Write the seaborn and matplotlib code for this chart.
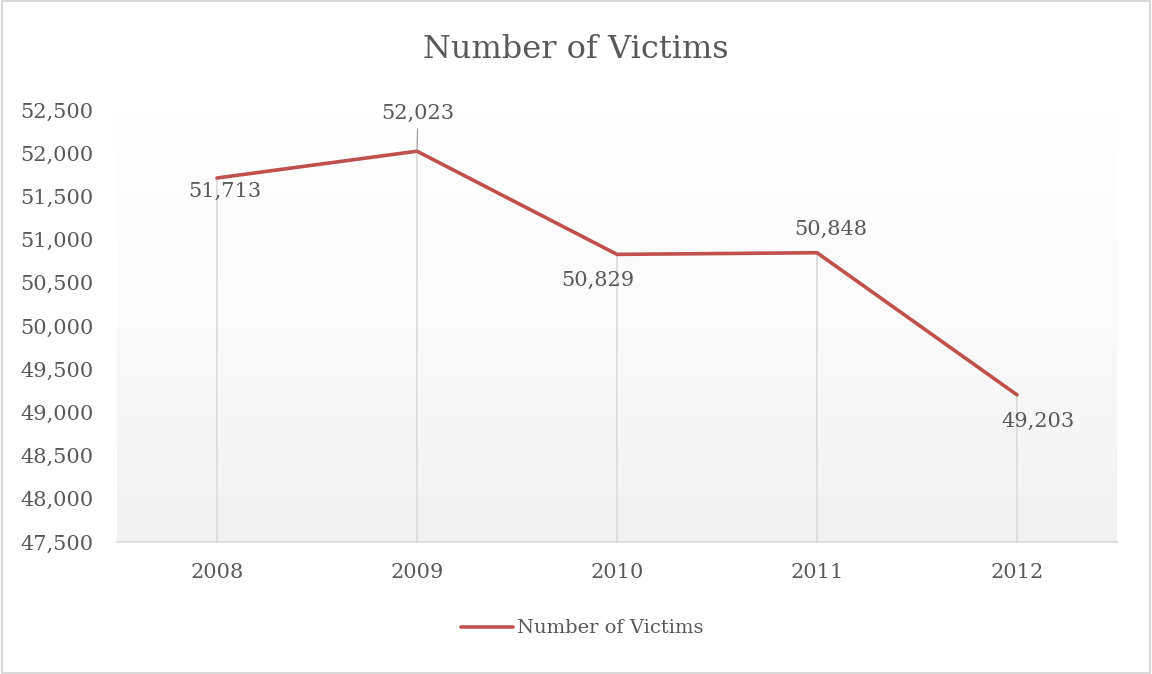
import numpy as np
import pandas as pd
import seaborn as sns
import matplotlib.pyplot as plt
from matplotlib.colors import LinearSegmentedColormap

years = ["2008", "2009", "2010", "2011", "2012"]
victims = [51713, 52023, 50829, 50848, 49203]

sns.set_style("white")
plt.rcParams['font.family'] = ['DejaVu Serif']
text_col = "#595959"
grid_col = "#d9d9d9"

df = pd.DataFrame({"Year": years, "Number of Victims": victims})
df["x"] = range(len(df))

fig = plt.figure(figsize=(11.52, 6.74), dpi=100)
ax = fig.add_axes([117/1152, 1 - 542/674, 1000/1152, 432/674])

# gradient background in the plot area
grad = np.linspace(0, 1, 256).reshape(-1, 1)
cmap = LinearSegmentedColormap.from_list("g", ["#f1f1f1", "#fafafa", "#ffffff"])
ax.imshow(grad, extent=(-0.5, 4.5, 47500, 52500), aspect="auto",
          cmap=cmap, origin="lower", zorder=0)

# drop lines
ax.vlines(df["x"], 47500, df["Number of Victims"], color=grid_col, lw=1.2, zorder=1)

sns.lineplot(data=df, x="x", y="Number of Victims", ax=ax, color="#C0504D",
             lw=2.6, label="Number of Victims", zorder=3, solid_capstyle="round")

# label offsets in pixels (dx, dy), dy positive = above
label_off = [(8, -13), (1, 38), (-19, -26), (14, 23), (21, -27)]
for i, v in enumerate(df["Number of Victims"]):
    dx, dy = label_off[i]
    kw = {}
    if i == 1:
        kw["arrowprops"] = dict(arrowstyle="-", color="#a6a6a6", lw=1, shrinkA=2, shrinkB=1)
    ax.annotate(f"{v:,}", (i, v), xytext=(dx, dy), textcoords="offset pixels",
                ha="center", va="center", fontsize=15, color=text_col, zorder=4, **kw)

ax.set_xlim(-0.5, 4.5)
ax.set_ylim(47500, 52500)
ax.set_yticks(range(47500, 52501, 500))
ax.set_yticklabels([f"{t:,}" for t in range(47500, 52501, 500)])
ax.set_xticks(df["x"])
ax.set_xticklabels(years)
ax.tick_params(axis="both", colors=text_col, labelsize=15, length=0)
ax.tick_params(axis="y", pad=17)
ax.tick_params(axis="x", pad=15)
ax.set_xlabel("")
ax.set_ylabel("")
for s in ["top", "right", "left"]:
    ax.spines[s].set_visible(False)
ax.spines["bottom"].set_color(grid_col)
ax.spines["bottom"].set_linewidth(1.2)

fig.text(0.5, 1 - 50/674, "Number of Victims", ha="center", va="center",
         fontsize=23, color=text_col)

ax.legend(loc="center", bbox_to_anchor=(0.465, -0.2), frameon=False, fontsize=14,
          labelcolor=text_col, handlelength=2.7, handletextpad=0.2)

fig.patches.append(plt.Rectangle((0.002, 0.002), 0.996, 0.996, transform=fig.transFigure,
                                 fill=False, edgecolor=grid_col, lw=1.5))
fig.savefig("out.png", dpi=100, facecolor="white")
